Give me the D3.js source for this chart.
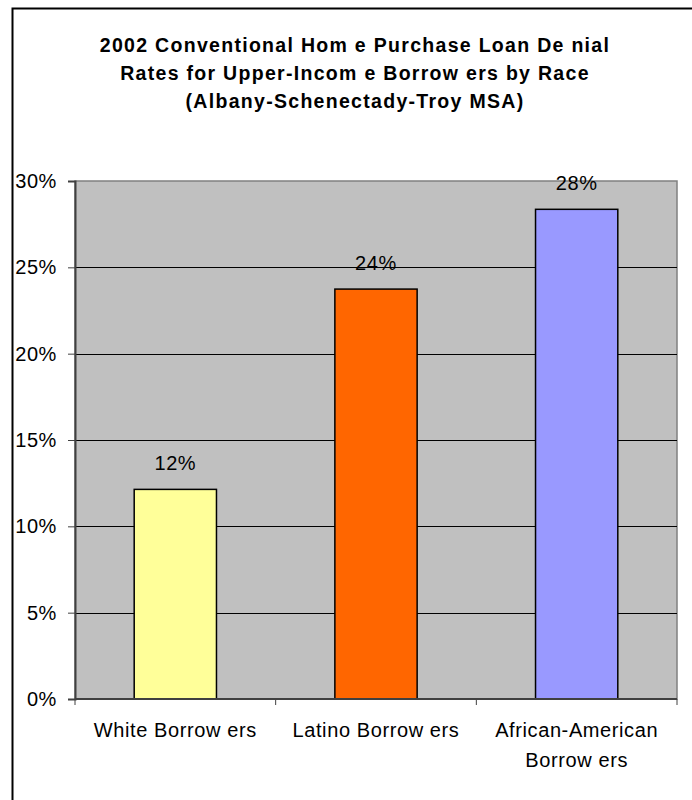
<!DOCTYPE html>
<html>
<head>
<meta charset="utf-8">
<script src="https://cdn.jsdelivr.net/npm/d3@7"></script>
<style>
  body { margin: 0; background: #fff; }
  text { font-family: "Liberation Sans", Arial, sans-serif; fill: #000; }
</style>
</head>
<body>
<script>
var width = 692,
    height = 800;

var titleLines = ["2002 Conventional Hom e Purchase Loan De nial",
                  "Rates for Upper-Incom e Borrow ers by Race",
                  "(Albany-Schenectady-Troy MSA)"];
var categories = [["White Borrow ers"], ["Latino Borrow ers"], ["African-American", "Borrow ers"]];
var rates = [12.14, 23.74, 28.36];
var barColors = ["#ffff99", "#ff6600", "#9999ff"];
var labels = ["12%", "24%", "28%"];
var yTicks = [0, 5, 10, 15, 20, 25, 30];

var plot = {left: 75, right: 677, top: 181, bottom: 699};
var fs = 20, ls = 0.6;

var svg = d3.select("body").append("svg")
    .attr("width", width)
    .attr("height", height);

// outer chart frame (only top and left visible)
svg.append("path")
    .attr("d", "M12.5,800V8.5H692")
    .attr("fill", "none")
    .attr("stroke", "#000")
    .attr("stroke-width", 2);

svg.append("g").selectAll("text")
    .data(titleLines)
  .enter().append("text")
    .attr("x", 355)
    .attr("y", function(d, i) { return 52 + i * 28; })
    .attr("text-anchor", "middle")
    .attr("font-size", 19.5)
    .attr("font-weight", "bold")
    .attr("letter-spacing", 1.3)
    .text(function(d) { return d; });

var x = d3.scaleBand()
    .domain(d3.range(categories.length))
    .range([plot.left, plot.right]);

var y = d3.scaleLinear()
    .domain([0, 30])
    .range([plot.bottom, plot.top]);

svg.append("rect")
    .attr("x", plot.left)
    .attr("y", plot.top)
    .attr("width", plot.right - plot.left)
    .attr("height", plot.bottom - plot.top)
    .attr("fill", "#c0c0c0")
    .attr("stroke", "#808080")
    .attr("stroke-width", 1.5);

svg.append("g").selectAll("line")
    .data(yTicks.slice(1, -1))
  .enter().append("line")
    .attr("x1", plot.left)
    .attr("x2", plot.right)
    .attr("y1", function(d) { return Math.round(y(d)) + 0.5; })
    .attr("y2", function(d) { return Math.round(y(d)) + 0.5; })
    .attr("stroke", "#000")
    .attr("stroke-width", 1);

var barW = x.bandwidth() * 0.41;

svg.append("g").selectAll("rect")
    .data(rates)
  .enter().append("rect")
    .attr("x", function(d, i) { return x(i) + (x.bandwidth() - barW) / 2; })
    .attr("y", function(d) { return y(d); })
    .attr("width", barW)
    .attr("height", function(d) { return y(0) - y(d); })
    .attr("fill", function(d, i) { return barColors[i]; })
    .attr("stroke", "#000")
    .attr("stroke-width", 1.5);

svg.append("g").selectAll("text")
    .data(rates)
  .enter().append("text")
    .attr("x", function(d, i) { return x(i) + x.bandwidth() / 2; })
    .attr("y", function(d) { return y(d) - 19; })
    .attr("text-anchor", "middle")
    .attr("font-size", fs)
    .attr("letter-spacing", ls)
    .text(function(d, i) { return labels[i]; });

// y axis
var yAxis = svg.append("g")
    .attr("transform", "translate(" + plot.left + ",0)")
    .call(d3.axisLeft(y).tickValues(yTicks).tickSize(7).tickPadding(11)
      .tickFormat(function(d) { return d + "%"; }));
yAxis.select(".domain").attr("stroke", "#404040").attr("stroke-width", 2);
yAxis.selectAll(".tick line").attr("stroke", "#404040");
yAxis.selectAll(".tick text")
    .attr("font-size", fs)
    .attr("letter-spacing", ls)
    .attr("font-family", "Liberation Sans, Arial, sans-serif")
    .attr("fill", "#000");

// x axis: ticks between categories
var xAxis = svg.append("g")
    .attr("transform", "translate(0," + plot.bottom + ")");
xAxis.append("line")
    .attr("x1", plot.left)
    .attr("x2", plot.right)
    .attr("stroke", "#404040")
    .attr("stroke-width", 2);
xAxis.selectAll(".xt")
    .data(d3.range(categories.length + 1))
  .enter().append("line")
    .attr("class", "xt")
    .attr("x1", function(d) { return d < categories.length ? x(d) : plot.right; })
    .attr("x2", function(d) { return d < categories.length ? x(d) : plot.right; })
    .attr("y1", 0)
    .attr("y2", 6)
    .attr("stroke", "#404040");

var xl = svg.append("g").selectAll("text")
    .data(categories)
  .enter().append("text")
    .attr("x", function(d, i) { return x(i) + x.bandwidth() / 2; })
    .attr("y", 737)
    .attr("text-anchor", "middle")
    .attr("font-size", fs)
    .attr("letter-spacing", ls);
xl.selectAll("tspan")
    .data(function(d) { return d; })
  .enter().append("tspan")
    .attr("x", function() { return d3.select(this.parentNode).attr("x"); })
    .attr("dy", function(d, i) { return i ? 30 : 0; })
    .text(function(d) { return d; });
</script>
</body>
</html>
